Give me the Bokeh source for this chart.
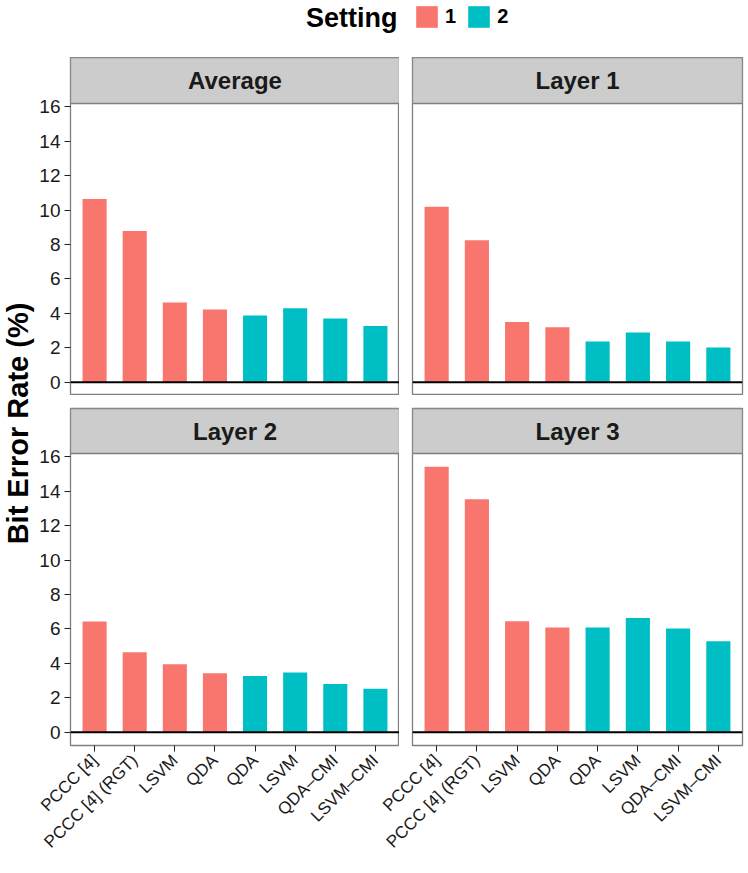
import math
from bokeh.plotting import figure
from bokeh.models import (ColumnDataSource, FixedTicker, Span, Legend, LegendItem,
                          Label, Range1d, BoxAnnotation)
from bokeh.layouts import row, column
from bokeh.embed import file_html
from bokeh.resources import INLINE

# ---------------- data ----------------
methods = ["PCCC [4]", "PCCC [4] (RGT)", "LSVM", "QDA", "QDA", "LSVM", "QDA–CMI", "LSVM–CMI"]
settings = ["1", "1", "1", "1", "2", "2", "2", "2"]
panel_titles = ["Average", "Layer 1", "Layer 2", "Layer 3"]
average = [10.65, 8.79, 4.63, 4.22, 3.87, 4.30, 3.70, 3.26]
layer1 = [10.20, 8.25, 3.50, 3.20, 2.37, 2.89, 2.37, 2.02]
layer2 = [6.43, 4.65, 3.95, 3.43, 3.26, 3.47, 2.80, 2.53]
layer3 = [15.42, 13.53, 6.45, 6.08, 6.08, 6.64, 6.02, 5.29]
y_ticks = [0, 2, 4, 6, 8, 10, 12, 14, 16]
setting_labels = ["1", "2"]
setting_colors = {"1": "#F8766D", "2": "#00BFC4"}
y_label = "Bit Error Rate (%)"
legend_title = "Setting"

FONT = "Liberation Sans"
BORDER = "#7F7F7F"
positions = list(range(1, len(methods) + 1))

Y_MIN, Y_MAX = -0.77, 16.19      # panel data range (with ggplot-like expansion)
PANEL_PX = 292                    # panel height in pixels
UNIT_PER_PX = (Y_MAX - Y_MIN) / PANEL_PX
OVERLAP = 30                      # right column canvases overlap the left column by this


def make_panel(title, vals, left, bottom):
    strip_px = 45 if bottom else 46
    y_top = Y_MAX + strip_px * UNIT_PER_PX
    top_pad = 13 if bottom else 0
    bot_pad = 128 if bottom else 0
    lb = 33 if left else 13 + OVERLAP
    rb = 0 if left else 6
    p = figure(width=lb + 330 + rb,
               height=top_pad + strip_px + PANEL_PX + bot_pad,
               x_range=Range1d(0.4, 8.6), y_range=Range1d(Y_MIN, y_top),
               x_axis_location="below" if bottom else None,
               y_axis_location="left" if left else None,
               min_border_top=top_pad, min_border_bottom=bot_pad,
               min_border_left=lb, min_border_right=rb,
               background_fill_color="white", border_fill_color="white",
               outline_line_color=BORDER, outline_line_width=1.3,
               toolbar_location=None, output_backend="svg")
    if not left:
        p.border_fill_alpha = 0.0
    p.xgrid.visible = False
    p.ygrid.visible = False
    src = ColumnDataSource(dict(x=positions, top=vals, setting=settings,
                                color=[setting_colors[s] for s in settings]))
    p.vbar(x="x", top="top", bottom=0, width=0.6, fill_color="color",
           line_color=None, source=src)
    p.add_layout(Span(location=0, dimension="width", line_color="black", line_width=2))
    # facet strip
    p.add_layout(BoxAnnotation(bottom=Y_MAX, fill_color="#CCCCCC", fill_alpha=1.0,
                               line_color=BORDER, line_width=1.3, line_alpha=1.0))
    p.add_layout(Label(x=4.5, y=(Y_MAX + y_top) / 2, text=title, text_align="center",
                       text_baseline="middle", text_font_size="24px",
                       text_font_style="bold", text_color="#1A1A1A", text_font=FONT))
    if left:
        ax = p.yaxis[0]
        ax.ticker = FixedTicker(ticks=y_ticks)
        ax.axis_line_color = None
        ax.major_tick_out = 6
        ax.major_tick_in = 0
        ax.major_tick_line_color = "#222222"
        ax.minor_tick_line_color = None
        ax.major_label_standoff = 4
        ax.major_label_text_font = FONT
        ax.major_label_text_font_size = "19px"
        ax.major_label_text_color = "#1A1A1A"
    if bottom:
        ax = p.xaxis[0]
        ax.ticker = FixedTicker(ticks=positions)
        ax.major_label_overrides = {i: m for i, m in zip(positions, methods)}
        ax.major_label_orientation = math.pi / 4
        ax.axis_line_color = None
        ax.major_tick_out = 6
        ax.major_tick_in = 0
        ax.major_tick_line_color = "#222222"
        ax.minor_tick_line_color = None
        ax.major_label_standoff = 6
        ax.major_label_text_font = FONT
        ax.major_label_text_font_size = "17px"
        ax.major_label_text_color = "#1A1A1A"
    return p


# legend row
leg = figure(width=748, height=57, x_range=Range1d(0, 748), y_range=Range1d(0, 57),
             x_axis_location=None, y_axis_location=None,
             min_border_top=0, min_border_bottom=0, min_border_left=0, min_border_right=0,
             outline_line_color=None, toolbar_location=None, output_backend="svg")
leg.xgrid.visible = False
leg.ygrid.visible = False
leg.add_layout(Label(x=397, y=40, text=legend_title, text_align="right",
                     text_baseline="middle", text_font_size="27px",
                     text_font_style="bold", text_color="black", text_font=FONT))
items = []
for s in setting_labels:
    # zero-height proxy bar, only used to draw the legend key
    r = leg.vbar(x=[0], top=[0], bottom=0, width=1, fill_color=setting_colors[s],
                 line_color=None)
    items.append(LegendItem(label=s, renderers=[r]))
legend = Legend(items=items, orientation="horizontal", location=(413, 27),
                glyph_width=27, glyph_height=27, label_standoff=5, label_width=11,
                spacing=9, padding=0, margin=0, border_line_color=None,
                background_fill_alpha=0, label_text_font=FONT,
                label_text_font_style="bold", label_text_font_size="20px",
                label_text_color="black")
leg.add_layout(legend)

# y label column
ylab = figure(width=36, height=816, x_range=Range1d(0, 36), y_range=Range1d(0, 816),
              x_axis_location=None, y_axis_location=None,
              min_border_top=0, min_border_bottom=0, min_border_left=0, min_border_right=0,
              outline_line_color=None, toolbar_location=None, output_backend="svg")
ylab.xgrid.visible = False
ylab.ygrid.visible = False
ylab.add_layout(Label(x=17, y=450, text=y_label, angle=math.pi / 2, text_align="center",
                      text_baseline="middle", text_font_size="29px",
                      text_font_style="bold", text_color="black", text_font=FONT))

left_col = column(make_panel(panel_titles[0], average, True, False),
                  make_panel(panel_titles[2], layer2, True, True))
right_col = column(make_panel(panel_titles[1], layer1, False, False),
                   make_panel(panel_titles[3], layer3, False, True),
                   margin=(0, 0, 0, -OVERLAP))
layout = column(leg, row(ylab, left_col, right_col))

open("out.html", "w").write(file_html(layout, INLINE, "Bit Error Rate"))
